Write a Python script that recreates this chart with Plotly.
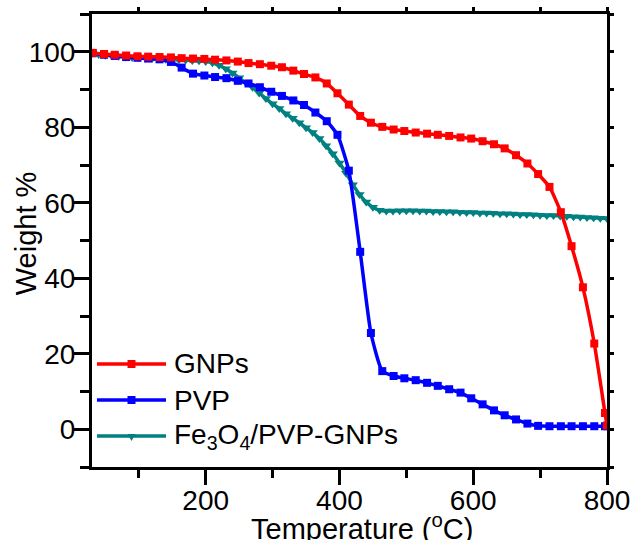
import plotly.graph_objects as go

# ---------------- data ----------------
temp_sq = [31, 48, 64, 81, 98, 114, 131, 148, 164, 181, 198, 214, 231, 248, 264, 281,
           298, 314, 331, 347, 364, 381, 397, 414, 431, 447, 464, 481, 497, 514, 531, 547,
           564, 581, 597, 614, 631, 647, 664, 681, 697, 714, 731, 747, 764, 781, 797, 800]

gnps = [99.7, 99.4, 99.2, 99.0, 98.8, 98.7, 98.6, 98.5, 98.3, 98.2, 98.1, 97.9, 97.7, 97.4,
        97.0, 96.7, 96.3, 95.9, 95.0, 94.1, 93.2, 91.6, 89.0, 86.0, 83.0, 81.2, 80.1, 79.4,
        79.0, 78.6, 78.3, 78.0, 77.7, 77.3, 77.0, 76.3, 75.5, 74.4, 72.6, 70.4, 67.6, 64.2,
        57.5, 48.5, 37.6, 22.7, 4.3, 1.0]

pvp = [99.6, 99.2, 98.9, 98.6, 98.4, 98.2, 98.0, 97.3, 95.8, 94.2, 93.7, 93.3, 93.0, 92.3,
       91.6, 90.6, 89.4, 88.3, 87.1, 85.9, 83.9, 81.6, 78.0, 68.5, 47.0, 25.5, 15.4, 14.1,
       13.5, 13.0, 12.3, 11.5, 10.6, 9.7, 8.2, 6.6, 5.0, 3.7, 2.6, 1.5, 0.9, 0.8, 0.8, 0.8,
       0.8, 0.8, 0.8, 0.8]

temp_tri = [30, 40, 50, 60, 70, 80, 90, 100, 110, 120, 130, 140, 150, 160, 170, 180, 190,
            200, 210, 220, 230, 240, 250, 260, 270, 280, 290, 300, 310, 320, 330, 340, 350,
            360, 370, 380, 390, 400, 410, 420, 430, 440, 450, 460, 470, 480, 490, 500, 510,
            520, 530, 540, 550, 560, 570, 580, 590, 600, 610, 620, 630, 640, 650, 660, 670,
            680, 690, 700, 710, 720, 730, 740, 750, 760, 770, 780, 790, 800]

fe3o4_pvp_gnps = [99.6, 99.3, 99.1, 98.9, 98.8, 98.6, 98.5, 98.4, 98.3, 98.2,
                  98.1, 98.0, 97.9, 97.9, 97.8, 97.7, 97.6, 97.4, 97.1, 96.4,
                  95.5, 94.4, 93.1, 91.8, 90.6, 89.1, 87.6, 86.2, 85.0, 83.6,
                  82.4, 81.2, 79.9, 78.6, 77.0, 75.1, 73.0, 70.5, 67.8, 64.8,
                  62.2, 60.2, 58.8, 58.0, 57.8, 57.8, 57.9, 57.9, 57.9, 57.8,
                  57.8, 57.7, 57.7, 57.6, 57.6, 57.5, 57.4, 57.4, 57.3, 57.3,
                  57.2, 57.1, 57.1, 57.0, 56.9, 56.9, 56.8, 56.7, 56.6, 56.6,
                  56.5, 56.4, 56.3, 56.2, 56.1, 56.0, 55.9, 55.8]

legend_labels = ["GNPs", "PVP", "Fe<sub>3</sub>O<sub>4</sub>/PVP-GNPs"]
colors = ["#FF0000", "#0000FF", "#008080"]
symbols = ["square", "square", "triangle-down"]

x_title = "Temperature (<sup>o</sup>C)"
y_title = "Weight %"

FONT = "Liberation Sans, Arial, sans-serif"

# ---------------- figure ----------------
fig = go.Figure()

fig.add_trace(go.Scatter(
    x=temp_tri, y=fe3o4_pvp_gnps, mode="lines+markers", name=legend_labels[2],
    line=dict(color=colors[2], width=3.5, shape="spline", smoothing=0.5),
    marker=dict(symbol=symbols[2], size=9, color=colors[2], line=dict(width=0)),
    showlegend=False))
fig.add_trace(go.Scatter(
    x=temp_sq, y=pvp, mode="lines+markers", name=legend_labels[1],
    line=dict(color=colors[1], width=3.5, shape="spline", smoothing=0.5),
    marker=dict(symbol=symbols[1], size=8, color=colors[1], line=dict(width=0)),
    showlegend=False))
fig.add_trace(go.Scatter(
    x=temp_sq, y=gnps, mode="lines+markers", name=legend_labels[0],
    line=dict(color=colors[0], width=3.5, shape="spline", smoothing=0.5),
    marker=dict(symbol=symbols[0], size=8, color=colors[0], line=dict(width=0)),
    showlegend=False))

# empty trace so the mirror (top/right) axes get drawn
fig.add_trace(go.Scatter(x=[None], y=[None], xaxis="x2", yaxis="y2",
                         showlegend=False, hoverinfo="skip"))

XR = [30, 800]
YR = [-10, 110]

fig.update_layout(
    width=632, height=540,
    margin=dict(l=92, r=25, t=14, b=73, autoexpand=False),
    paper_bgcolor="white", plot_bgcolor="white",
    showlegend=False,
    font=dict(family=FONT, size=28, color="black"),
    xaxis=dict(range=XR, showline=True, linecolor="black", linewidth=3,
               automargin=False,
               ticks="outside", ticklen=15, tickwidth=3, tickcolor="black",
               tick0=0, dtick=200, showgrid=False, zeroline=False,
               ticklabelstandoff=-9,
               tickfont=dict(family=FONT, size=28, color="black"),
               minor=dict(tick0=0, dtick=100, ticks="outside", ticklen=8,
                          tickwidth=3, tickcolor="black", showgrid=False)),
    yaxis=dict(range=YR, showline=True, linecolor="black", linewidth=3,
               automargin=False,
               ticks="outside", ticklen=15, tickwidth=3, tickcolor="black",
               tick0=0, dtick=20, showgrid=False, zeroline=False,
               ticklabelstandoff=-7,
               tickfont=dict(family=FONT, size=28, color="black"),
               minor=dict(tick0=0, dtick=10, ticks="outside", ticklen=9,
                          tickwidth=3, tickcolor="black", showgrid=False)),
    xaxis2=dict(range=XR, overlaying="x", side="top", anchor="y",
                automargin=False,
                showline=True, linecolor="black", linewidth=3,
                ticks="outside", ticklen=4, tickwidth=2.5, tickcolor="black",
                tick0=0, dtick=100, showticklabels=False,
                showgrid=False, zeroline=False),
    yaxis2=dict(range=YR, overlaying="y", side="right", anchor="x",
                automargin=False,
                showline=True, linecolor="black", linewidth=3,
                ticks="outside", ticklen=4, tickwidth=2.5, tickcolor="black",
                tick0=0, dtick=10, showticklabels=False,
                showgrid=False, zeroline=False),
)

# axis titles
fig.add_annotation(text=x_title, xref="paper", yref="paper", x=0.524, y=-0.132,
                   xanchor="center", yanchor="middle", showarrow=False,
                   font=dict(family=FONT, size=29, color="black"))
fig.add_annotation(text=y_title, xref="paper", yref="paper", x=-0.129, y=0.515,
                   xanchor="center", yanchor="middle", showarrow=False, textangle=-90,
                   font=dict(family=FONT, size=29, color="black"))

# legend (drawn manually to get the long sample lines)
leg_rows = [0.2274, 0.1479, 0.0684]
leg_x0, leg_x1, leg_xm, leg_xt = 0.0097, 0.1437, 0.0767, 0.1553
for lab, col, sym, yy in zip(legend_labels, colors, symbols, leg_rows):
    fig.add_shape(type="line", xref="paper", yref="paper", x0=leg_x0, x1=leg_x1,
                  y0=yy, y1=yy, line=dict(color=col, width=3.5))
    if sym == "square":
        fig.add_shape(type="rect", xref="paper", yref="paper",
                      xsizemode="pixel", ysizemode="pixel", xanchor=leg_xm, yanchor=yy,
                      x0=-4, x1=4, y0=-4, y1=4, fillcolor=col, line=dict(width=0))
    else:
        fig.add_shape(type="path", xref="paper", yref="paper",
                      xsizemode="pixel", ysizemode="pixel", xanchor=leg_xm, yanchor=yy,
                      path="M-4,2 L4,2 L0,-5 Z", fillcolor=col, line=dict(width=0))
    fig.add_annotation(text=lab, xref="paper", yref="paper", x=leg_xt, y=yy,
                       xanchor="left", yanchor="middle", showarrow=False,
                       font=dict(family=FONT, size=28, color="black"))

fig.write_html("out.html")
